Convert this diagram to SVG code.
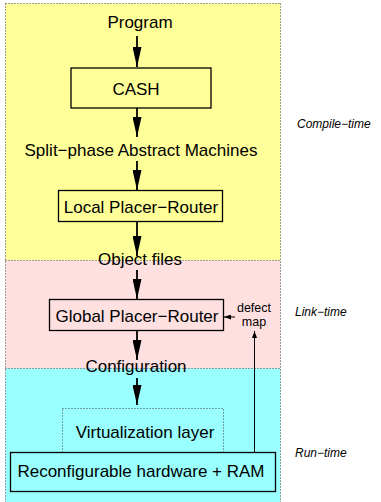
<svg xmlns="http://www.w3.org/2000/svg" width="381" height="502" viewBox="0 0 381 502">
<style>
.t{font-family:"Liberation Sans",Arial,sans-serif;font-size:17px;fill:#000;text-anchor:middle}
.s{font-family:"Liberation Sans",Arial,sans-serif;font-size:12.5px;fill:#000;text-anchor:middle}
.side{font-family:"Liberation Sans",Arial,sans-serif;font-size:12px;font-style:italic;fill:#000}
.box{fill:none;stroke:#000;stroke-width:1.3}
.dot{fill:none;stroke:#444;stroke-width:1;stroke-dasharray:1 2}
.ar{stroke:#000;stroke-width:1.8;fill:none}
.ar2{stroke:#000;stroke-width:1;fill:none}
</style>
<defs>
<marker id="big" markerUnits="userSpaceOnUse" viewBox="0 0 20 9" refX="20" refY="4.5" markerWidth="20" markerHeight="9" orient="auto">
<path d="M0,0 L20,4.5 L0,9 z" fill="#000"/>
</marker>
<marker id="small" markerUnits="userSpaceOnUse" viewBox="0 0 7 5" refX="7" refY="2.5" markerWidth="7" markerHeight="5" orient="auto">
<path d="M0,0 L7,2.5 L0,5 z" fill="#000"/>
</marker>
</defs>
<g id="regions">
<rect x="5.5" y="3.5" width="275" height="257" fill="#ffff99"/>
<rect x="5.5" y="260.5" width="275" height="108" fill="#ffe0e0"/>
<rect x="5.5" y="368.5" width="275" height="134" fill="#99ffff"/>
<path class="dot" d="M5.5,3.5 H280.5 M5.5,3.5 V502 M280.5,3.5 V502 M5.5,260.5 H280.5 M5.5,368.5 H280.5"/>
</g>
<g id="program"><text class="t" x="140" y="28">Program</text></g>
<g id="cash"><rect class="box" x="71" y="68" width="140" height="40" fill="#ffff99"/><text class="t" x="136" y="95">CASH</text></g>
<g id="spam"><text class="t" x="141" y="156">Split−phase Abstract Machines</text></g>
<g id="local"><rect class="box" x="58.5" y="190.5" width="164" height="31" fill="#ffff99"/><text class="t" x="141" y="213">Local Placer−Router</text></g>
<g id="objfiles"><text class="t" x="140" y="265">Object files</text></g>
<g id="global"><rect class="box" x="49.5" y="299.5" width="174" height="31"/><text class="t" x="137" y="322">Global Placer−Router</text></g>
<g id="defect"><text class="s" x="254" y="312">defect</text><text class="s" x="254" y="326">map</text></g>
<g id="config"><text class="t" x="136" y="372">Configuration</text></g>
<g id="virt"><rect class="dot" x="62.5" y="408.5" width="161" height="44"/><text class="t" x="145" y="438">Virtualization layer</text></g>
<g id="hw"><rect class="box" x="10.5" y="452.5" width="265" height="39" fill="#99ffff"/><text class="t" x="141" y="477">Reconfigurable hardware + RAM</text></g>
<g id="labels">
<text class="side" x="297" y="128">Compile−time</text>
<text class="side" x="295" y="316">Link−time</text>
<text class="side" x="295" y="457">Run−time</text>
</g>
<g id="connectors">
<line class="ar" x1="137" y1="36" x2="137" y2="67" marker-end="url(#big)"/>
<line class="ar" x1="137" y1="108" x2="137" y2="137" marker-end="url(#big)"/>
<line class="ar" x1="137" y1="161" x2="137" y2="190" marker-end="url(#big)"/>
<line class="ar" x1="137" y1="222" x2="137" y2="256" marker-end="url(#big)"/>
<line class="ar" x1="137" y1="270" x2="137" y2="299" marker-end="url(#big)"/>
<line class="ar" x1="137" y1="331" x2="137" y2="360" marker-end="url(#big)"/>
<line class="ar" x1="137" y1="378" x2="137" y2="405" marker-end="url(#big)"/>
<line class="ar2" x1="235" y1="317" x2="224" y2="317" marker-end="url(#small)"/>
<line class="ar2" x1="254.5" y1="452" x2="254.5" y2="331" marker-end="url(#small)"/>
</g>
</svg>
